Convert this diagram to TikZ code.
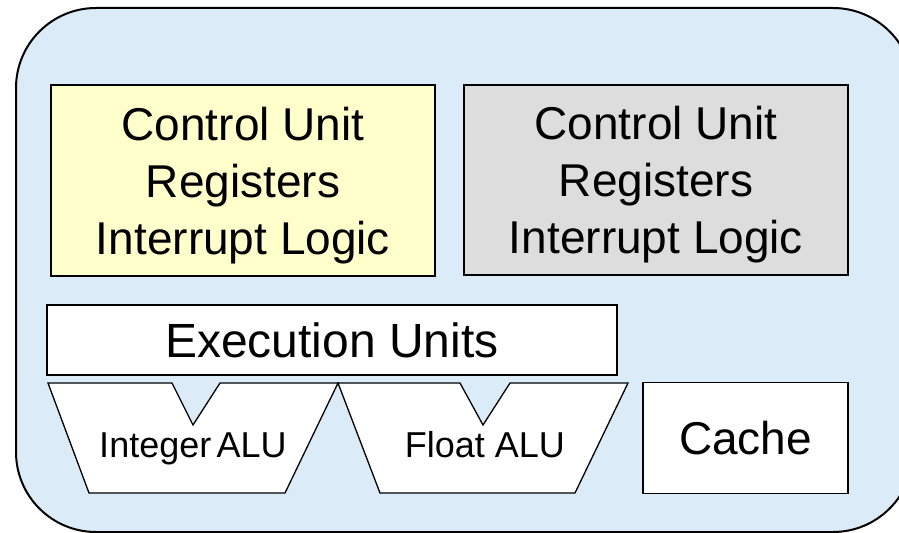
\documentclass[tikz,border=0pt]{standalone}
\usepackage{fontspec}
\setmainfont{Liberation Sans}
\usepackage{xcolor}
\usetikzlibrary{positioning}
\definecolor{coreblue}{RGB}{220,235,248}
\definecolor{ctxyellow}{RGB}{255,255,204}
\definecolor{ctxgray}{RGB}{221,221,221}
\tikzset{
  unitbox/.style={draw, fill=white, line width=1.3bp, inner sep=0pt, align=center,
    font=\fontsize{46bp}{57bp}\selectfont},
  alushape/.style={draw, fill=white, line width=1.3bp, line join=miter},
  alutext/.style={anchor=base, inner sep=0pt, font=\fontsize{36bp}{42bp}\selectfont}
}

\begin{document}
\begin{tikzpicture}[x=1bp,y=-1bp]
        \clip (0,0) rectangle (899,533);
        % core outline
        \draw[fill=coreblue, line width=2bp, rounded corners=80bp] (16,8) rectangle (913,532);
        % two architectural states
        \node[unitbox, fill=ctxyellow, minimum width=384bp, minimum height=191bp, text depth=0pt]
            (ctxa) at (243,180.5) {Control Unit\\Registers\\Interrupt Logic};
        \node[unitbox, fill=ctxgray, minimum width=384bp, minimum height=190bp, text depth=0pt]
            (ctxb) at (656,180) {Control Unit\\Registers\\Interrupt Logic};
        % shared resources
        \node[unitbox, minimum width=570bp, minimum height=70bp, font=\fontsize{48bp}{57bp}\selectfont]
            (exec) at (332,340) {Execution Units};
        \node[unitbox, minimum width=205bp, minimum height=111bp] (cache) at (745.5,438) {Cache};
        % ALUs
        \draw[alushape] (48,383) -- (172,383) -- (193,425) -- (220,383) -- (338,383)
            -- (285,493) -- (89,493) -- cycle;
        \draw[alushape] (338,383) -- (460,383) -- (483,425) -- (510,383) -- (628,383)
            -- (575,493) -- (380,493) -- cycle;
        \node[alutext] (intalu) at (193,457) {Integer\hspace{0.15em}ALU};
        \node[alutext] (fpalu) at (485,457) {Float ALU};
\end{tikzpicture}
\end{document}
